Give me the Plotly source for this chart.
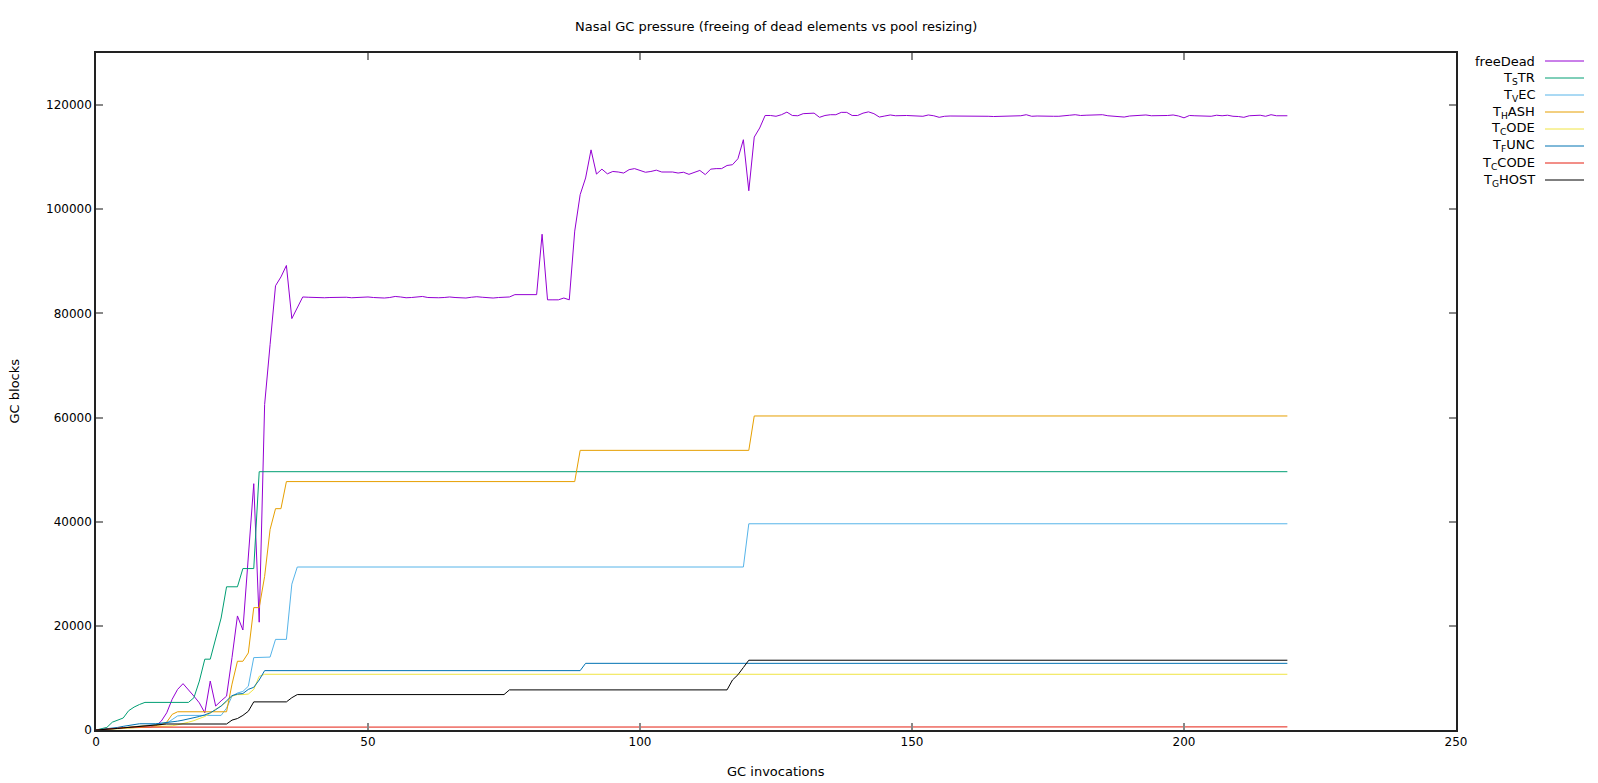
import plotly.graph_objects as go

# ---------------- data ----------------
gc_index = list(range(220))

free_dead = [
    0, 100, 200, 300, 300, 400, 400, 500, 500, 600,
    600, 800, 1700, 3300, 5900, 7800, 8900, 7800, 6500, 5200,
    3300, 9400, 4600, 5600, 6500, 13900, 21900, 19200, 33000, 47300,
    20700, 62500, 74000, 85300, 87000, 89200, 79000, 81000, 83150, 83100,
    83050, 83100, 83000, 83050, 83100, 83150, 83100, 83000, 83050, 83100,
    83150, 83050, 83000, 82950, 83050, 83250, 83150, 83000, 83050, 83150,
    83250, 83050, 83000, 83000, 83050, 83150, 83050, 83000, 82950, 83100,
    83200, 83100, 83000, 82950, 83050, 83150, 83150, 83600, 83600, 83650,
    83700, 83600, 95200, 82600, 82600, 82600, 82950, 82600, 95800, 102800,
    106000, 111400, 106750, 107700, 106800, 107250, 107150, 106950, 107600, 107800,
    107450, 107100, 107250, 107500, 107150, 107150, 107150, 106950, 107100, 106700,
    107150, 107450, 106650, 107700, 107800, 107800, 108400, 108550, 109700, 113350,
    103550, 113850, 115600, 118000, 118000, 117850, 118150, 118650, 118000, 117950,
    118350, 118450, 118450, 117650, 118000, 118150, 118150, 118600, 118600, 118000,
    118000, 118450, 118700, 118350, 117700, 117900, 118100, 117950, 118000, 118000,
    117950, 117950, 117850, 118100, 117950, 117650, 117850, 117900, 117900, 117950,
    117950, 117850, 117900, 117950, 117850, 117800, 117850, 117900, 117900, 117900,
    117950, 118150, 117850, 117900, 117850, 117850, 117850, 117850, 117900, 118050,
    118150, 118000, 118050, 118050, 118100, 118150, 117950, 117900, 117850, 117700,
    117900, 117950, 118000, 118100, 117950, 117950, 117950, 118000, 118100, 117900,
    117550, 118000, 117950, 117950, 117900, 117850, 118050, 117950, 118050, 117850,
    117800, 117650, 117950, 118000, 118050, 117850, 118150, 117950, 117950, 117950,
]

# step-like series: (GC invocation, blocks) knots
tstr_pts = [(0, 0), (1, 200), (2, 500), (3, 1500), (4, 1900), (5, 2300), (6, 3700),
            (7, 4400), (8, 4900), (9, 5300), (17, 5300), (18, 6200), (19, 9400),
            (20, 13600), (21, 13600), (22, 17500), (23, 21500), (24, 27500),
            (26, 27500), (27, 31000), (29, 31000), (30, 49600), (219, 49600)]
tvec_pts = [(0, 0), (1, 50), (2, 100), (3, 200), (4, 300), (5, 400), (6, 500),
            (7, 600), (8, 700), (9, 800), (10, 900), (11, 1000), (12, 1100),
            (13, 1300), (14, 2000), (15, 2700), (16, 2800), (23, 2800), (24, 4200),
            (25, 6500), (26, 7100), (27, 7400), (28, 8400), (29, 13900), (32, 14000),
            (33, 17400), (35, 17400), (36, 28000), (37, 31300), (119, 31300),
            (120, 39600), (219, 39600)]
thash_pts = [(0, 0), (1, 100), (2, 200), (3, 300), (4, 400), (5, 500), (6, 600),
             (7, 700), (9, 800), (11, 900), (12, 1000), (13, 1500), (14, 3000),
             (15, 3500), (24, 3500), (25, 8800), (26, 13200), (27, 13200),
             (28, 14800), (29, 23500), (30, 23500), (31, 29500), (32, 38500),
             (33, 42500), (34, 42500), (35, 47700), (88, 47700), (89, 53700),
             (120, 53700), (121, 60300), (219, 60300)]
tcode_pts = [(0, 0), (2, 100), (4, 200), (6, 300), (8, 400), (10, 500), (12, 600),
             (13, 700), (14, 800), (15, 1000), (16, 1200), (17, 1500), (18, 1800),
             (19, 2200), (20, 2600), (21, 3200), (22, 4000), (23, 4600), (24, 5400),
             (25, 6500), (26, 6800), (27, 6800), (28, 6900), (29, 7800), (30, 10300),
             (31, 10700), (219, 10700)]
tfunc_pts = [(0, 0), (1, 100), (2, 200), (3, 300), (4, 500), (5, 700), (6, 900),
             (7, 1100), (8, 1200), (11, 1200), (12, 1300), (13, 1400), (14, 1500),
             (15, 1700), (16, 1900), (17, 2100), (18, 2300), (19, 2600), (20, 2900),
             (21, 3300), (22, 3900), (23, 4600), (24, 5600), (25, 6600), (26, 6900),
             (27, 7000), (28, 7800), (29, 8200), (30, 9600), (31, 11400), (89, 11400),
             (90, 12800), (219, 12800)]
tccode_pts = [(0, 0), (1, 100), (2, 200), (3, 300), (4, 400), (5, 450), (6, 500),
              (7, 550), (89, 550), (90, 600), (219, 600)]
tghost_pts = [(0, 0), (1, 50), (2, 100), (3, 200), (4, 300), (5, 400), (6, 500),
              (7, 600), (8, 700), (9, 800), (10, 900), (11, 1000), (12, 1100),
              (13, 1150), (24, 1150), (25, 1900), (26, 2200), (27, 2800), (28, 3600),
              (29, 5400), (35, 5400), (36, 6200), (37, 6800), (75, 6800), (76, 7700),
              (116, 7700), (117, 9600), (118, 10600), (119, 12000), (120, 13400),
              (219, 13400)]

series_names = ["freeDead", "T<sub>S</sub>TR", "T<sub>V</sub>EC", "T<sub>H</sub>ASH",
                "T<sub>C</sub>ODE", "T<sub>F</sub>UNC", "T<sub>C</sub>CODE", "T<sub>G</sub>HOST"]
series_colors = ["#9400d3", "#009e73", "#56b4e9", "#e69f00",
                 "#f0e442", "#0072b2", "#e51e10", "#000000"]

x_ticks = [0, 50, 100, 150, 200, 250]
y_ticks = [0, 20000, 40000, 60000, 80000, 100000, 120000]

# ---------------- figure ----------------
W, H = 1598, 783
L, R, T, B = 88, 150, 45, 61
PW, PH = W - L - R, H - T - B

def px_x(px):
    return (px - L) / PW

def px_y(py):
    return (H - B - py) / PH

FONT = "DejaVu Sans"

fig = go.Figure()
all_series = [(gc_index, free_dead)] + [tuple(map(list, zip(*p))) for p in
                                        (tstr_pts, tvec_pts, thash_pts, tcode_pts,
                                         tfunc_pts, tccode_pts, tghost_pts)]
for (xs, ys), name, col in zip(all_series, series_names, series_colors):
    fig.add_trace(go.Scatter(x=xs, y=ys, mode="lines", name=name,
                             line=dict(color=col, width=1), showlegend=False))

annotations = []
shapes = []
row0, step = 53, 17
for i, (name, col) in enumerate(zip(series_names, series_colors)):
    yy = px_y(row0 + i * step)
    annotations.append(dict(text=name, xref="paper", yref="paper", x=px_x(1529), y=yy,
                            xanchor="right", yanchor="middle", showarrow=False,
                            font=dict(family=FONT, size=13, color="#000")))
    shapes.append(dict(type="line", xref="paper", yref="paper",
                       x0=px_x(1537), x1=px_x(1576), y0=yy, y1=yy,
                       line=dict(color=col, width=1)))

annotations.append(dict(text="GC blocks", xref="paper", yref="paper",
                        x=px_x(6), y=0.5, textangle=-90, xanchor="center",
                        yanchor="middle", showarrow=False,
                        font=dict(family=FONT, size=13, color="#000")))
annotations.append(dict(text="GC invocations", xref="paper", yref="paper",
                        x=0.5, y=px_y(764), xanchor="center", yanchor="middle",
                        showarrow=False, font=dict(family=FONT, size=13, color="#000")))
annotations.append(dict(text="Nasal GC pressure (freeing of dead elements vs pool resizing)",
                        xref="paper", yref="paper", x=0.5, y=px_y(19),
                        xanchor="center", yanchor="middle", showarrow=False,
                        font=dict(family=FONT, size=13, color="#000")))

axis_common = dict(showgrid=False, zeroline=False, showline=True, linecolor="#222222",
                   linewidth=1.5, mirror="ticks", ticks="inside", ticklen=7,
                   tickcolor="#888888", tickwidth=1.5,
                   tickfont=dict(family=FONT, size=12, color="#000"))

fig.update_layout(
    width=W, height=H,
    margin=dict(l=L, r=R, t=T, b=B),
    paper_bgcolor="white", plot_bgcolor="white",
    xaxis=dict(range=[0, 250], tickvals=x_ticks, ticktext=[str(v) for v in x_ticks],
               **axis_common),
    yaxis=dict(range=[0, 130000], tickvals=y_ticks, ticktext=[str(v) for v in y_ticks],
               **axis_common),
    annotations=annotations,
    shapes=shapes,
)

fig.write_html("out.html")
